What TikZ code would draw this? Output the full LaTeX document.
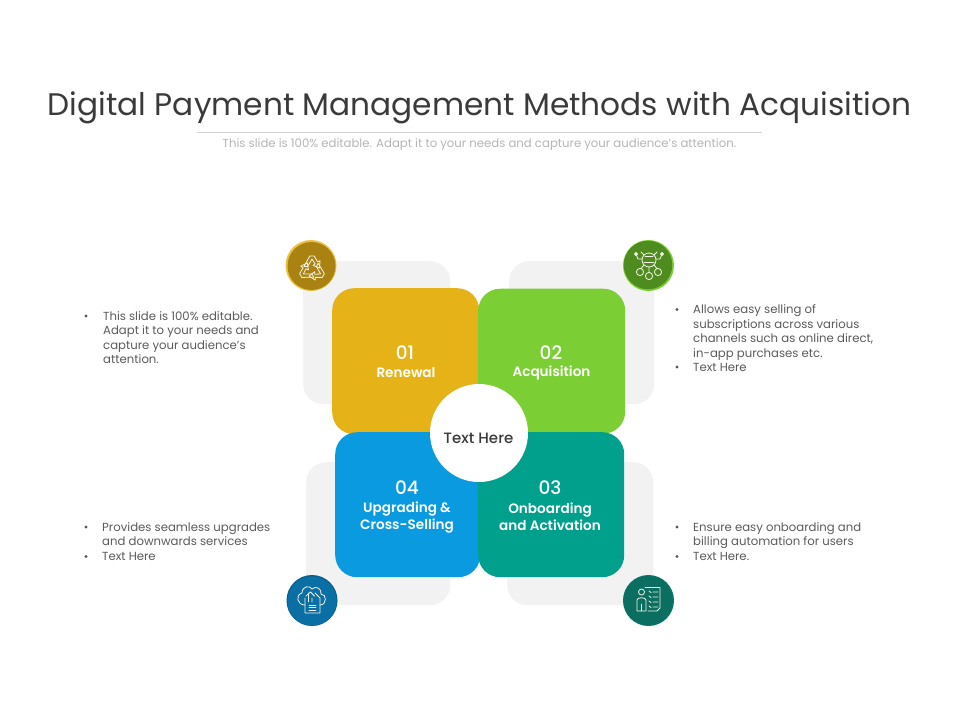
\documentclass[tikz,border=0pt]{standalone}
\usepackage{fontspec}
\setmainfont{Poppins}
\newfontfamily\semib{Poppins SemiBold}
\newfontfamily\medf{Poppins Medium}
\usetikzlibrary{arrows.meta}
\definecolor{ttl}{HTML}{3A3A3A}
\definecolor{sub}{HTML}{B4B4B4}
\definecolor{body}{HTML}{5A5A5A}
\definecolor{panel}{HTML}{F2F2F3}
\definecolor{cy}{HTML}{E5B317}
\definecolor{cg}{HTML}{7BCE33}
\definecolor{cb}{HTML}{0A9AE0}
\definecolor{ct}{HTML}{00A08C}
\definecolor{dy}{HTML}{A98212}
\definecolor{dg}{HTML}{4F8C1F}
\definecolor{db}{HTML}{0A6FA5}
\definecolor{dt}{HTML}{0A6E60}
\definecolor{ic}{HTML}{F4F4E8}
\tikzset{
 panelbox/.style={fill=panel,rounded corners=20pt,inner sep=0,anchor=north west},
 tile/.style={rounded corners=22pt,inner sep=0,anchor=north west},
 num/.style={text=white,font=\fontsize{18.5}{20}\medf\selectfont,inner sep=0},
 lab/.style={text=white,font=\fontsize{13.6}{17}\semib\selectfont,align=center,inner sep=0},
 para/.style={text=body,font=\fontsize{11.7}{14.5}\selectfont,align=left,inner sep=0,anchor=north west},
 bul/.style={circle,fill=body,minimum size=3.2pt,inner sep=0},
 icn/.style={draw=ic,line width=.8pt,line join=round,line cap=round},
}
\begin{document}
\begin{tikzpicture}[x=1pt,y=-1pt]
\useasboundingbox (0,0) rectangle (960,720);
\node[text=ttl,font=\fontsize{31.2}{34}\selectfont,inner sep=0] (title) at (479.5,108) {Digital Payment Management Methods with Acquisition};
\coordinate (ruleL) at (197,132); \coordinate (ruleR) at (762,132);
\draw[draw=black!18,line width=.6pt] (ruleL) -- (ruleR);
\node[text=sub,font=\fontsize{11.7}{13}\selectfont,inner sep=0] (subtitle) at (479.5,144.5) {This slide is 100\% editable. Adapt it to your needs and capture your audience's attention.};
% panels
\node[panelbox,minimum width=147pt,minimum height=143pt] (p1) at (303,261) {};
\node[panelbox,minimum width=145pt,minimum height=143pt] (p2) at (509,261) {};
\node[panelbox,minimum width=144pt,minimum height=143pt] (p4) at (306,462) {};
\node[panelbox,minimum width=146pt,minimum height=143pt] (p3) at (507,462) {};
% tiles
\node[tile,fill=cy,minimum width=147pt,minimum height=146pt] (t1) at (332,288) {};
\node[tile,fill=cg,minimum width=147pt,minimum height=145pt] (t2) at (478,288.5) {};
\node[tile,fill=cb,minimum width=145pt,minimum height=145pt] (t4) at (335,432) {};
\node[tile,fill=ct,minimum width=146pt,minimum height=145pt] (t3) at (478,432) {};
\fill[cb] (445,432) rectangle (479,470);
\fill[ct] (478,432) rectangle (510,470);
\fill[cy] (445,400) rectangle (479,432);
\fill[cg] (478,400) rectangle (510,432);
\node[circle,fill=white,minimum size=98pt,inner sep=0] (hub) at (479,433) {};
\node[text=ttl,font=\fontsize{15}{16}\medf\selectfont,inner sep=0] (hubt) at (478.5,438) {Text Here};
% tile text
\node[num] (n1) at (405,352.5) {01};
\node[lab] (l1) at (406,373) {Renewal};
\node[num] (n2) at (551,352.5) {02};
\node[lab] (l2) at (551.5,373) {Acquisition};
\node[num] (n3) at (550,488) {03};
\node[lab] (l3) at (550,516.5) {Onboarding\\and Activation};
\node[num] (n4) at (407,488) {04};
\node[lab] (l4) at (407,518) {Upgrading \&\\Cross-Selling};
% corner badges
\node[circle,fill=cy!80!white,minimum size=51pt,inner sep=0] (b1) at (311,265.5) {};
\node[circle,fill=dy,minimum size=48pt,inner sep=0] (b1i) at (311.5,266) {};
\node[circle,fill=cg,minimum size=51pt,inner sep=0] (b2) at (648.5,265.5) {};
\node[circle,fill=dg,minimum size=48.5pt,inner sep=0] (b2i) at (648,265) {};
\node[circle,fill=db!85!black,minimum size=51pt,inner sep=0] (b4) at (312,600.5) {};
\node[circle,fill=db,minimum size=49pt,inner sep=0] (b4i) at (312,601) {};
\node[circle,fill=dt!80!ct,minimum size=51pt,inner sep=0] (b3) at (648.5,600.5) {};
\node[circle,fill=dt,minimum size=49pt,inner sep=0] (b3i) at (648,600.5) {};
% recycle icon
\foreach \a in {0,120,240}{
\begin{scope}[shift={(312,269)},rotate=\a]
\draw[icn] (-8,-2.5) -- (-2.2,-13) -- (2.2,-13) -- (5.6,-7) -- (8,-8.4) -- (7.6,-1) -- (1,-3.6) -- (3.2,-5) -- (0,-10) -- (-4.4,-2.5) -- cycle;
\end{scope}}
% network icon
\draw[icn] (649,260) circle (7pt);
\draw[icn] (644,262) -- (654,262) (645,256) -- (653,256);
\draw[icn] (640,272) circle (3.6pt) (649,276) circle (3.6pt) (658,272) circle (3.6pt);
\draw[icn] (649,267) -- (649,272.4) (644,265) -- (641,268.6) (654,265) -- (657,268.6);
\draw[icn] (642,259) -- (638,259) -- (636,254) (636,254) circle (1.5pt);
\draw[icn] (656,259) -- (660,259) -- (662,254) (662,254) circle (1.5pt);
\draw[icn] (644,255) -- (641,252) (654,255) -- (657,252);
% cloud icon
\draw[icn] (305,605) .. controls (297,605) and (295,595) .. (302,593) .. controls (302,586) and (310,585) .. (312,589) .. controls (316,585) and (322,589) .. (321,594) .. controls (327,594) and (327,605) .. (320,605);
\draw[icn] (305,598) -- (305,613) -- (320,613) -- (320,598) -- (315,593);
\draw[icn] (308.5,602) -- (308.5,593) (306,596) -- (310.5,592) -- (314.5,596) (312,598) -- (312,602);
\draw[icn] (309,605) -- (316,605) (309,607.5) -- (316,607.5) (309,610) -- (316,610);
% person + checklist icon
\draw[icn] (641.5,592) circle (3pt);
\draw[icn] (637,611) -- (637,600) .. controls (637,597) and (646,597) .. (646,600) -- (646,611) -- cycle;
\draw[icn] (641.5,604) -- (641.5,611);
\draw[icn] (645,587.5) -- (660,587.5) -- (660,608) -- (657,611) -- (648,611);
\draw[icn] (649,591) -- (651,592.5) (653,592) -- (658,592) (649,596) -- (651,597.5) (653,597) -- (658,597) (649,601) -- (651,602.5) (653,602) -- (658,602) (649,606) -- (651,607.5) (653,607) -- (658,607);
% descriptive text
\node[bul] (d1) at (86,316) {};
\node[para] (s1) at (103,311) {This slide is 100\% editable.\\Adapt it to your needs and\\capture your audience's\\attention.};
\node[bul] (d2) at (677,309.5) {};
\node[para] (s2) at (693,304.5) {Allows easy selling of\\subscriptions across various\\channels such as online direct,\\in-app purchases etc.\\Text Here};
\node[bul] (d2b) at (677,367) {};
\node[bul] (d4) at (86,527) {};
\node[para] (s4) at (102,522) {Provides seamless upgrades\\and downwards services\\Text Here};
\node[bul] (d4b) at (86,556.5) {};
\node[bul] (d3) at (677,527) {};
\node[para] (s3) at (693,522) {Ensure easy onboarding and\\billing automation for users\\Text Here.};
\node[bul] (d3b) at (677,556.5) {};
\end{tikzpicture}
\end{document}
